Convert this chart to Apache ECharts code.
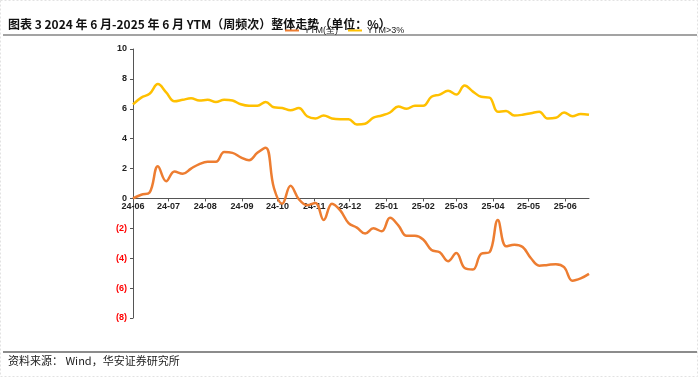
<!DOCTYPE html>
<html>
<head>
<meta charset="utf-8">
<script src="https://cdn.jsdelivr.net/npm/echarts@6/dist/echarts.min.js"></script>
<style>
  html, body { margin: 0; padding: 0; background: #fff; }
  #chart { width: 700px; height: 378px; }
</style>
</head>
<body>
<div id="chart"></div>
<script>
// weekly dates, 2024-06-01 .. 2025-06-21
var weekCount = 56;

// YTM (orange), weekly
var ytmAll = [
    0, 0.25, 0.4, 2.15, 1.15, 1.8, 1.65, 2.0, 2.3, 2.45,
    2.45, 3.1, 3.05, 2.75, 2.55, 3.05, 3.4, 0.7, -0.35, 0.85,
    -0.05, -0.45, -0.3, -1.45, -0.35, -0.8, -1.65, -1.95, -2.35, -2.0,
    -2.2, -1.3, -1.8, -2.5, -2.5, -2.75, -3.45, -3.6, -4.2, -3.65,
    -4.65, -4.75, -3.7, -3.6, -1.45, -3.2, -3.1, -3.25, -4.0, -4.5,
    -4.45, -4.4, -4.6, -5.5, -5.35, -5.05
];

// YTM>3% (yellow)
var ytmHigh = [
    6.3, 6.75, 7.0, 7.65, 7.1, 6.5, 6.6, 6.7, 6.55, 6.6,
    6.45, 6.6, 6.55, 6.3, 6.2, 6.2, 6.45, 6.1, 6.05, 5.9,
    6.05, 5.5, 5.35, 5.55, 5.35, 5.3, 5.3, 4.95, 5.0, 5.4,
    5.55, 5.75, 6.15, 6.0, 6.2, 6.2, 6.8, 6.95, 7.2, 6.95,
    7.55, 7.15, 6.8, 6.75, 5.8, 5.85, 5.55, 5.6, 5.7, 5.8,
    5.35, 5.4, 5.75, 5.5, 5.65, 5.6
];

var seriesNames = ['YTM(全)', 'YTM>3%'];
var yTicks = [-8, -6, -4, -2, 0, 2, 4, 6, 8, 10];

var DAY = 86400000;
var t0 = new Date(2024, 5, 1).getTime();
var dates = [];
for (var i = 0; i < weekCount; i++) {
    dates.push(t0 + i * 7 * DAY);
}

function pairs(vals) {
    return vals.map(function (v, i) {
        return [dates[i], v];
    });
}

// plot box, the x axis sits on y = 0
var gridTop = 49, gridBottom = 60, chartH = 378;
var yMin = yTicks[0], yMax = yTicks[yTicks.length - 1];
var plotH = chartH - gridTop - gridBottom;
var zeroOffset = -plotH * (0 - yMin) / (yMax - yMin);

var chart = echarts.init(document.getElementById('chart'), null, { renderer: 'canvas' });

var titleText = '图表 3 2024 年 6 月-2025 年 6 月 YTM（周频次）整体走势（单位：%）';

var option = {
    animation: false,
    backgroundColor: '#fff',
    textStyle: { fontFamily: 'Arial, "Liberation Sans", sans-serif' },
    graphic: [
        {
            type: 'rect',
            shape: { x: 0.5, y: 0.5, width: 697, height: 376 },
            style: { fill: null, stroke: '#e2e2e2', lineWidth: 1, lineDash: [2, 2] }
        },
        {
            type: 'text',
            left: 8,
            top: 18,
            style: {
                text: titleText,
                font: 'bold 12px "Noto Sans CJK SC"',
                fill: '#111'
            }
        },
        {
            type: 'rect',
            shape: { x: 3, y: 34, width: 694, height: 2 },
            style: { fill: '#a3a3a3' }
        },
        {
            type: 'rect',
            shape: { x: 3, y: 351, width: 694, height: 2 },
            style: { fill: '#8c8c8c' }
        },
        {
            type: 'text',
            left: 8,
            top: 355,
            style: {
                text: '资料来源： Wind，华安证券研究所',
                font: '11px "Noto Sans CJK SC"',
                fill: '#222'
            }
        }
    ],
    legend: {
        left: 280,
        top: 21,
        itemWidth: 14,
        itemHeight: 2,
        itemGap: 10,
        icon: 'rect',
        textStyle: { fontSize: 9, color: '#222' },
        data: seriesNames
    },
    grid: {
        left: 133,
        right: 111,
        top: gridTop,
        bottom: gridBottom,
        containLabel: false
    },
    xAxis: {
        type: 'time',
        min: t0,
        max: t0 + (weekCount - 1) * 7 * DAY,
        splitNumber: 13,
        minInterval: 28 * DAY,
        maxInterval: 31 * DAY,
        offset: zeroOffset,
        axisLine: { onZero: false, lineStyle: { color: '#555', width: 1 } },
        axisTick: { show: true, length: 3, lineStyle: { color: '#555' } },
        axisLabel: {
            formatter: '{yy}-{MM}',
            showMinLabel: true,
            showMaxLabel: false,
            hideOverlap: false,
            fontSize: 9,
            fontWeight: 'bold',
            color: '#222',
            margin: 4
        },
        splitLine: { show: false }
    },
    yAxis: {
        type: 'value',
        min: yMin,
        max: yMax,
        interval: 2,
        axisLine: { show: true, lineStyle: { color: '#555', width: 1 } },
        axisTick: { show: true, length: 3, lineStyle: { color: '#555' } },
        axisLabel: {
            fontSize: 9,
            fontWeight: 'bold',
            margin: 6,
            formatter: function (v) {
                return v < 0 ? '(' + (-v) + ')' : String(v);
            },
            color: function (v) {
                return Number(v) < 0 ? '#ff0000' : '#222';
            }
        },
        splitLine: { show: false }
    },
    series: [
        {
            name: seriesNames[0],
            type: 'line',
            data: pairs(ytmAll),
            smooth: 0.4,
            showSymbol: false,
            symbol: 'none',
            lineStyle: { color: '#ED7D31', width: 2.5 },
            itemStyle: { color: '#ED7D31' },
            z: 3
        },
        {
            name: seriesNames[1],
            type: 'line',
            data: pairs(ytmHigh),
            smooth: 0.4,
            showSymbol: false,
            symbol: 'none',
            lineStyle: { color: '#FFC000', width: 2.5 },
            itemStyle: { color: '#FFC000' },
            z: 2
        }
    ]
};

chart.setOption(option);
</script>
</body>
</html>
